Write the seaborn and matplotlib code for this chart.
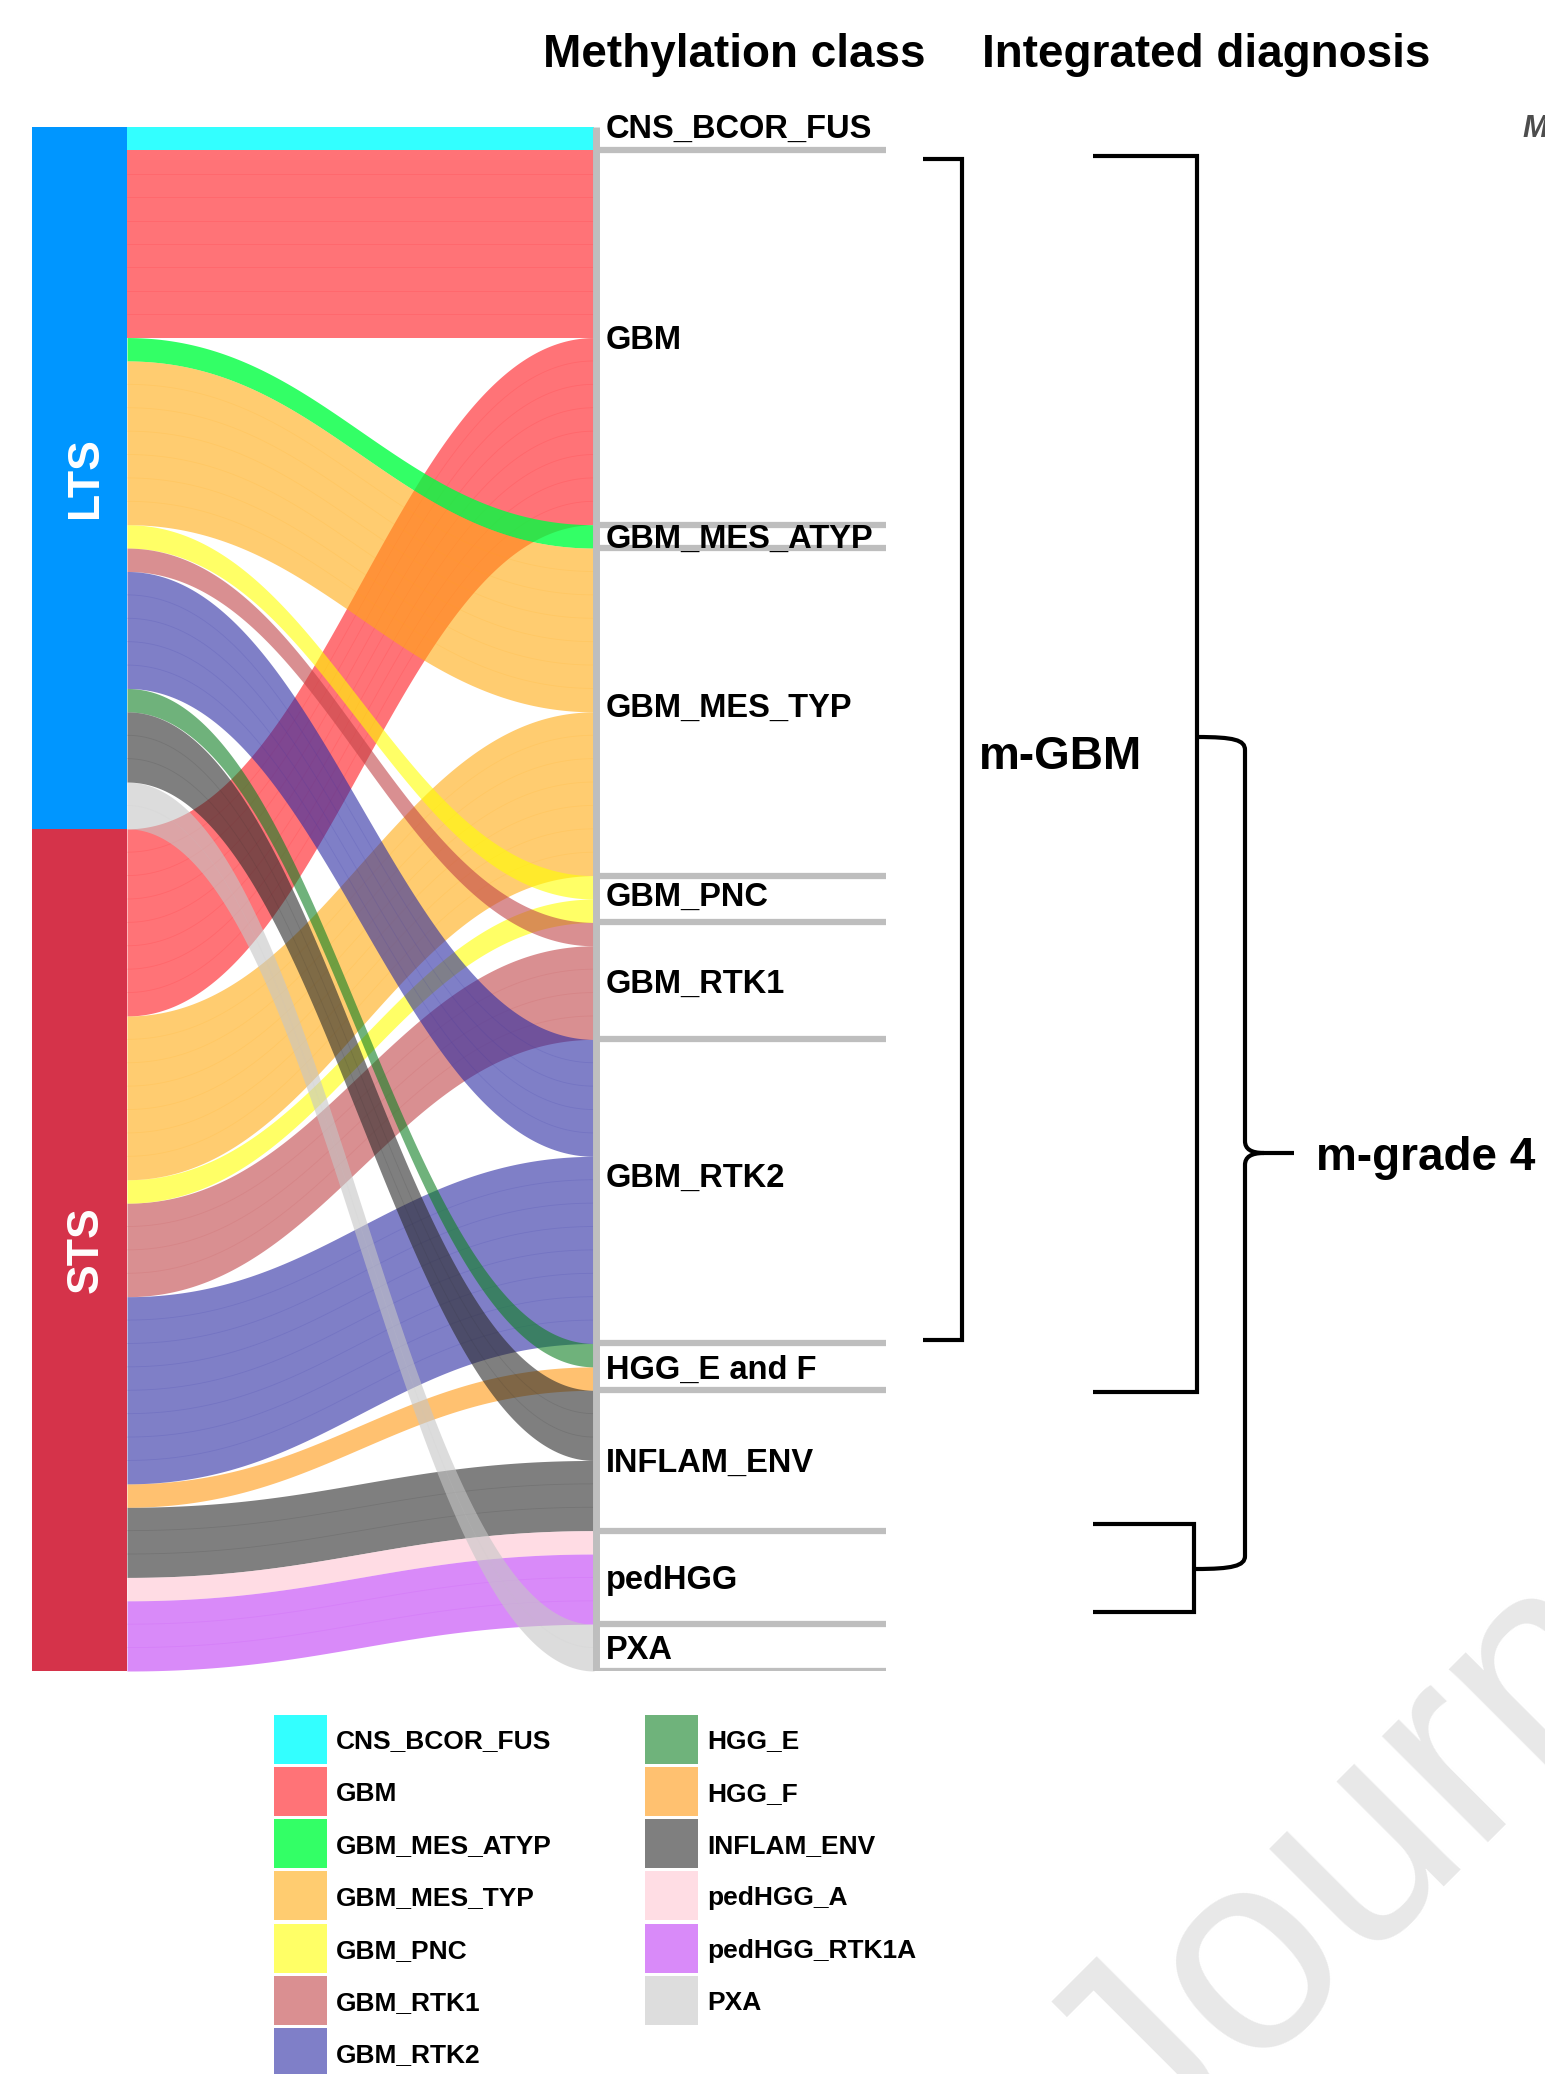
import numpy as np
import pandas as pd
import matplotlib
matplotlib.use("Agg")
import matplotlib.pyplot as plt
import matplotlib.colors as mcolors
from matplotlib.patches import Rectangle, PathPatch
from matplotlib.path import Path
import seaborn as sns

sns.set_theme(style="white")
plt.rcParams["font.family"] = ["Liberation Sans", "DejaVu Sans"]
plt.rcParams["text.color"] = "black"

# left axis: survival group
groups = ["LTS", "STS"]
group_colors = ["#0096FF", "#D5334A"]

# right axis: methylation class
classes = ["CNS_BCOR_FUS", "GBM", "GBM_MES_ATYP", "GBM_MES_TYP", "GBM_PNC",
           "GBM_RTK1", "GBM_RTK2", "HGG_E and F", "INFLAM_ENV", "pedHGG", "PXA"]

# fill: methylation subclass
subclasses = ["CNS_BCOR_FUS", "GBM", "GBM_MES_ATYP", "GBM_MES_TYP", "GBM_PNC",
              "GBM_RTK1", "GBM_RTK2", "HGG_E", "HGG_F", "INFLAM_ENV",
              "pedHGG_A", "pedHGG_RTK1A", "PXA"]
sub_colors = ["#33FFFF", "#FF7377", "#33FF66", "#FFCC70", "#FFFF66", "#DA8F91",
              "#7F7FC8", "#6FB37B", "#FFC170", "#7F7F7F", "#FFDDE4", "#D98AF9",
              "#DDDDDD"]

# alluvia: number of patients per group -> class (subclass)
flow_group = ["LTS"] * 10 + ["STS"] * 9
flow_class = ["CNS_BCOR_FUS", "GBM", "GBM_MES_ATYP", "GBM_MES_TYP", "GBM_PNC",
              "GBM_RTK1", "GBM_RTK2", "HGG_E and F", "INFLAM_ENV", "PXA",
              "GBM", "GBM_MES_TYP", "GBM_PNC", "GBM_RTK1", "GBM_RTK2",
              "HGG_E and F", "INFLAM_ENV", "pedHGG", "pedHGG"]
flow_sub = ["CNS_BCOR_FUS", "GBM", "GBM_MES_ATYP", "GBM_MES_TYP", "GBM_PNC",
            "GBM_RTK1", "GBM_RTK2", "HGG_E", "INFLAM_ENV", "PXA",
            "GBM", "GBM_MES_TYP", "GBM_PNC", "GBM_RTK1", "GBM_RTK2",
            "HGG_F", "INFLAM_ENV", "pedHGG_A", "pedHGG_RTK1A"]
flow_n = [1, 8, 1, 7, 1, 1, 5, 1, 3, 2,
          8, 7, 1, 4, 8, 1, 3, 1, 3]

W, H = 1545, 2074
fig = plt.figure(figsize=(W / 100, H / 100), dpi=100)

df = pd.DataFrame({"group": flow_group, "cls": flow_class, "sub": flow_sub, "n": flow_n})
df["gi"] = df["group"].map(groups.index)
df["ci"] = df["cls"].map(classes.index)
df["si"] = df["sub"].map(subclasses.index)
o = df.sort_values(["gi", "ci", "si"])
df.loc[o.index, "yl"] = (o["n"].cumsum() - o["n"]).values
o = df.sort_values(["ci", "gi", "si"])
df.loc[o.index, "yr"] = (o["n"].cumsum() - o["n"]).values
total = df["n"].sum()

# alluvial axes: x in pixels, y in patients
y_top, y_bot = 127, 1671
ax = fig.add_axes([0, 1 - y_bot / H, 1, (y_bot - y_top) / H])
ax.set_xlim(0, W)
ax.set_ylim(total, 0)
ax.axis("off")


def see_through(col, a_min=0.6):
    # base colour + alpha that gives the legend tint over white
    rgb = np.array(mcolors.to_rgb(col))
    a = max(a_min, 1 - rgb.min())
    return tuple(np.clip(1 - (1 - rgb) / a, 0, 1)), a


x_left, x_right = 127, 594
t = np.linspace(0, 1, 240)
k = 0.42
bx = 3 * (1 - t) ** 2 * t * k + 3 * (1 - t) * t ** 2 * (1 - k) + t ** 3
by = 3 * (1 - t) * t ** 2 + t ** 3
xs = x_left + (x_right - x_left) * bx

# STS drawn first, LTS on top
for _, r in df.sort_values("gi", ascending=False).iterrows():
    base, a = see_through(sub_colors[int(r.si)])
    top = r.yl + (r.yr - r.yl) * by
    ax.fill_between(xs, top, top + r.n, color=base, alpha=a, lw=0, zorder=2)
    for j in range(1, int(r.n)):
        ax.plot(xs, top + j, color=base, alpha=0.13, lw=0.6, zorder=2)

# left strata
gsize = df.groupby("gi")["n"].sum()
y0 = 0
for gi, g in enumerate(groups):
    n = gsize[gi]
    ax.add_patch(Rectangle((32, y0), 95, n, color=group_colors[gi], lw=0, zorder=3))
    ax.text(86, y0 + n / 2, g, rotation=90, color="white", fontsize=32,
            weight="bold", ha="center", va="center", zorder=4)
    y0 += n

# right strata
csize = df.groupby("ci")["n"].sum().reindex(range(len(classes))).values
bounds = np.cumsum(csize)
ax.hlines(bounds, 596, 886, color="#BEBEBE", lw=4.5, zorder=4)
ax.vlines(596, 0, total, color="#BEBEBE", lw=5, zorder=4)
label_y = {"CNS_BCOR_FUS": 0.45, "GBM_MES_TYP": 25.2, "GBM_PNC": 33.3, "GBM_RTK2": 45.3}
for c, lo, n in zip(classes, bounds - csize, csize):
    yy = label_y.get(c, lo + n / 2 + 0.5)
    ax.text(606, yy, c, fontsize=23.5, weight="bold", ha="left", va="baseline", zorder=5)

# overlay in figure pixels
ov = fig.add_axes([0, 0, 1, 1])
ov.set_xlim(0, W)
ov.set_ylim(H, 0)
ov.axis("off")
ov.patch.set_alpha(0)

ov.text(1150, 2180, "Journal Pre-proof", rotation=45, rotation_mode="anchor",
        ha="left", va="baseline", fontsize=205, color="#E8E8E8", zorder=0)

ov.text(734, 67, "Methylation class", fontsize=33, weight="bold", ha="center", va="baseline")
ov.text(1206, 67, "Integrated diagnosis", fontsize=33, weight="bold", ha="center", va="baseline")
ov.text(1522, 137, "M", fontsize=22, weight="bold", style="italic", color="#4D4D4D",
        ha="left", va="baseline")

kw = dict(color="black", lw=3, solid_joinstyle="miter", solid_capstyle="butt")
ov.plot([923, 962, 962, 923], [159, 159, 1340, 1340], **kw)
ov.plot([1093, 1197, 1197, 1093], [156, 156, 1392, 1392], **kw)
ov.plot([1093, 1194, 1194, 1093], [1524, 1524, 1612, 1612], **kw)

M, C, L = Path.MOVETO, Path.CURVE4, Path.LINETO
top_half = Path([(1197, 737), (1234, 737), (1245, 740), (1245, 750), (1245, 1141),
                 (1245, 1149), (1251, 1153), (1264, 1153), (1294, 1153)],
                [M, C, C, C, L, C, C, C, L])
bot_half = Path([(1264, 1153), (1251, 1153), (1245, 1157), (1245, 1165), (1245, 1556),
                 (1245, 1566), (1232, 1569), (1196, 1569)],
                [M, C, C, C, L, C, C, C])
for p in (top_half, bot_half):
    ov.add_patch(PathPatch(p, fill=False, edgecolor="black", lw=3))

ov.text(979, 769, "m-GBM", fontsize=33, weight="bold", ha="left", va="baseline")
ov.text(1316, 1170, "m-grade 4", fontsize=33, weight="bold", ha="left", va="baseline")

# legend
for i, (lab, col) in enumerate(zip(subclasses, sub_colors)):
    c, r = divmod(i, 7)
    x0 = [274, 645][c]
    yc = 1739 + r * 52.3
    ov.add_patch(Rectangle((x0, yc - 24.5), 53, 49, color=col, lw=0))
    ov.text(x0 + 62, yc + 9.5, lab, fontsize=19, weight="bold", ha="left", va="baseline")

fig.savefig("out.png", dpi=100)
